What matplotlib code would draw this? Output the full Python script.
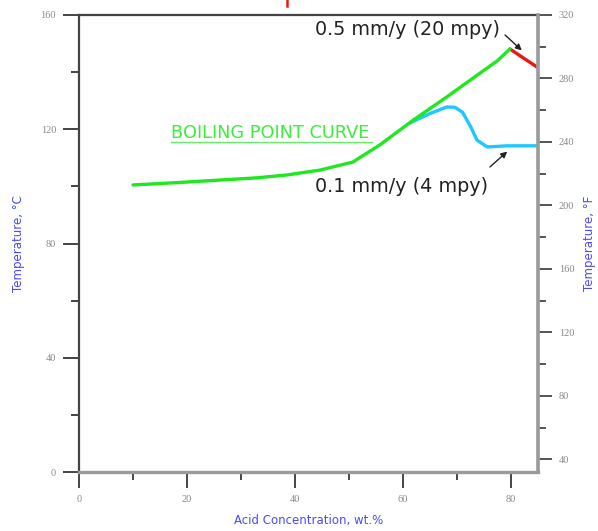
import matplotlib
matplotlib.use("Agg")
import matplotlib.pyplot as plt
from matplotlib.lines import Line2D
from matplotlib.ticker import MultipleLocator, FixedLocator

# boiling point curve, wt.% vs deg C
boil_x = [10, 18, 26, 33, 38.5, 44.6, 50.7, 55.7, 61.9, 68.1, 74.3, 77.5, 79.8]
boil_y = [100.5, 101.3, 102.2, 103.0, 104.0, 105.7, 108.5, 114.5, 123.2, 131.3, 139.7, 144.0, 148.1]

# 0.1 mm/y iso-corrosion line
iso01_x = [61.3, 65.0, 68.1, 69.6, 71.0, 72.5, 73.7, 75.6, 79.3, 84.8]
iso01_y = [122.2, 125.5, 127.8, 127.7, 126.0, 121.0, 116.2, 113.8, 114.2, 114.2]

# 0.5 mm/y iso-corrosion line
iso05_x = [79.8, 84.8]
iso05_y = [148.1, 141.8]

x_ticks = [0, 20, 40, 60, 80]
c_ticks = [0, 40, 80, 120, 160]
f_ticks = [40, 80, 120, 160, 200, 240, 280, 320]
f_minor = [60, 100, 140, 180, 220, 260, 300]

tick_font = dict(family="Liberation Serif", size=7.5, color="#8a8a8a")
label_color = "#4a4aff"

fig = plt.figure(figsize=(5.98, 5.31), dpi=100)
ax = fig.add_axes([79 / 598, 1 - 472 / 531, 459 / 598, 457 / 531])

ax.plot(boil_x, boil_y, color="#1ee81e", lw=2.4, solid_capstyle="round", zorder=3)
ax.plot(iso01_x, iso01_y, color="#1ec8ff", lw=2.4, solid_capstyle="round", zorder=2)
ax.plot(iso05_x, iso05_y, color="#ee1515", lw=2.4, solid_capstyle="round", zorder=2)

ax.set_xlim(0, 85)
ax.set_ylim(0, 160)
ax.set_xticks(x_ticks)
ax.set_yticks(c_ticks)
ax.xaxis.set_minor_locator(MultipleLocator(10))
ax.yaxis.set_minor_locator(MultipleLocator(20))
ax.tick_params(axis="both", which="major", direction="out", length=11.5, width=1.4,
               color="#444444", pad=5)
ax.tick_params(axis="both", which="minor", direction="out", length=6, width=1.4,
               color="#444444")
for lab in ax.get_xticklabels() + ax.get_yticklabels():
    lab.set(**tick_font)

ax.spines["left"].set(color="#444444", lw=1.6)
ax.spines["top"].set(color="#444444", lw=1.6)
ax.spines["bottom"].set(color="#9a9a9a", lw=2.4)
ax.spines["right"].set_visible(False)

ax.set_xlabel("Acid Concentration, wt.%", color=label_color, fontsize=8.5, labelpad=7)
ax.set_ylabel("Temperature, \u00b0C", color=label_color, fontsize=8.5, labelpad=11)

# Fahrenheit scale on the right
ax2 = ax.twinx()
ax2.set_ylim(32, 320)
ax2.set_yticks(f_ticks)
ax2.yaxis.set_minor_locator(FixedLocator(f_minor))
ax2.tick_params(axis="y", which="major", direction="out", length=10, width=1.4,
                color="#555555", pad=5)
ax2.tick_params(axis="y", which="minor", direction="out", length=6, width=1.4,
                color="#555555")
for lab in ax2.get_yticklabels():
    lab.set(**tick_font)
for side in ["left", "top", "bottom"]:
    ax2.spines[side].set_visible(False)
ax2.spines["right"].set(color="#9a9a9a", lw=2.6)
ax2.set_ylabel("Temperature, \u00b0F", color=label_color, fontsize=8.5,
               rotation=90, labelpad=6)

# annotations
ax.text(17.0, 116.8, "BOILING POINT CURVE", color="#3cee3c", fontsize=12.8,
        family="DejaVu Sans", va="baseline")
ax.plot([17.0, 54.3], [115.6, 115.6], color="#66ee66", lw=1.0)

ax.text(78.0, 154.8, "0.5 mm/y (20 mpy)", fontsize=13.8, color="#222222",
        ha="right", va="center")
ax.annotate("", xy=(82.0, 147.6), xytext=(78.9, 153.0),
            arrowprops=dict(arrowstyle="-|>", color="#222222", lw=1.0,
                            mutation_scale=9, shrinkA=0, shrinkB=0))

ax.text(75.7, 99.8, "0.1 mm/y (4 mpy)", fontsize=13.8, color="#222222",
        ha="right", va="center")
ax.annotate("", xy=(79.3, 112.2), xytext=(76.1, 106.8),
            arrowprops=dict(arrowstyle="-|>", color="#222222", lw=1.0,
                            mutation_scale=9, shrinkA=0, shrinkB=0))

# red marker cut at the top edge
fig.add_artist(Line2D([287 / 598, 287 / 598], [1.0, 1 - 6 / 531],
                      color="#ee1515", lw=1.8, transform=fig.transFigure))

fig.savefig("out.png", dpi=100)
